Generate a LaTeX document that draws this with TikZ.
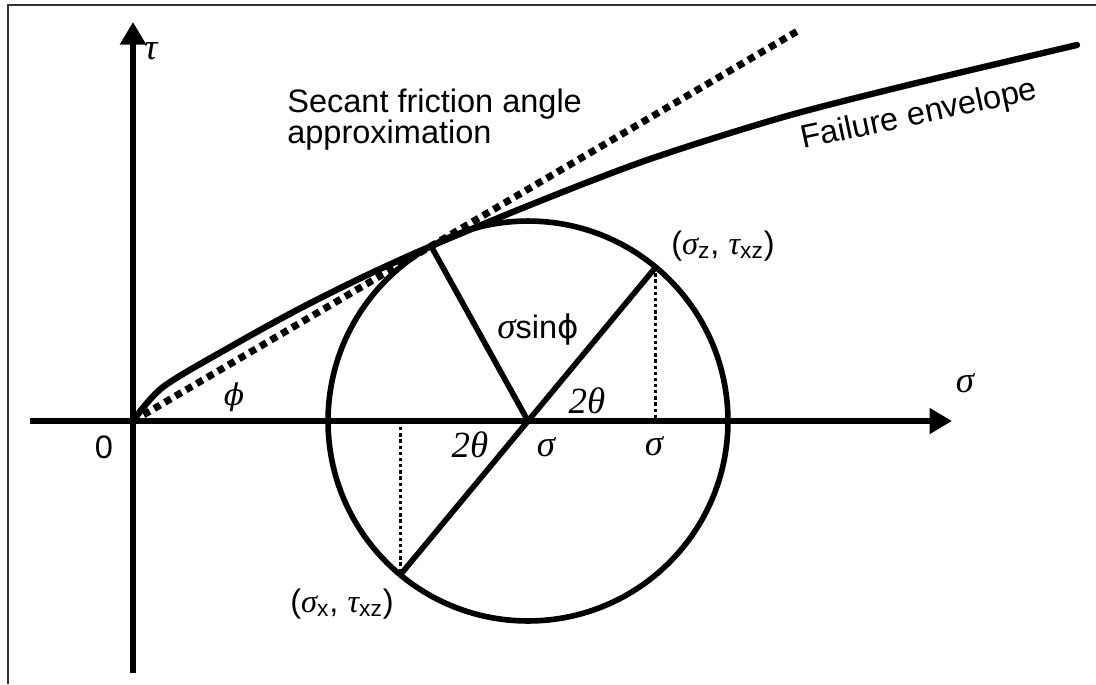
\documentclass[tikz,border=0pt]{standalone}
\usepackage{fontspec}
\setsansfont{Liberation Sans}
\newfontfamily\phifont{DejaVu Sans}
\newfontfamily\phiserif{DejaVu Serif}
\newfontfamily\grkfont{Liberation Serif}
\newcommand{\grkit}[1]{{\grkfont\itshape #1}}
\usetikzlibrary{calc, arrows.meta}

\begin{document}
\begin{tikzpicture}[x=0.02cm, y=-0.02cm,
    axis/.style={line width=3pt, -{Triangle[length=0.45cm, width=0.5cm]}},
    mohr/.style={line width=3.2pt},
    envelope/.style={line width=3.6pt, line cap=round},
    secant/.style={line width=4pt, dash pattern=on 4pt off 3pt},
    drop/.style={line width=1.9pt, dash pattern=on 1.9pt off 1.6pt},
    txt/.style={font=\sffamily\fontsize{18.5}{17.5}\selectfont, inner sep=0pt},
    sym/.style={font=\grkfont\itshape\fontsize{21}{23}\selectfont, inner sep=0pt}
  ]
  \useasboundingbox (0,0) rectangle (1096,684);
  \draw[line width=1.2pt, black!80] (8,684) -- (8,5) -- (1096,5);

  % axes
  \coordinate (O) at (133,421);
  \coordinate (ybot) at (133,673);
  \coordinate (ytop) at (133,22);
  \coordinate (xleft) at (30,421);
  \coordinate (xright) at (952,421);
  \draw[axis] (ybot) -- (ytop);
  \draw[axis] (xleft) -- (xright);

  % Mohr circle
  \coordinate (C) at (528,421);
  \coordinate (T) at ($(C)+(119:4cm)$);
  \coordinate (Z) at ($(C)+(50.3:4cm)$);
  \coordinate (X) at ($(C)+(230.3:4cm)$);
  \coordinate (Zf) at (Z |- C);
  \coordinate (Xf) at (X |- C);
  \draw[mohr] (C) circle[radius=4cm];
  \draw[mohr] (C) -- (T);
  \draw[mohr] (X) -- (Z);
  \draw[drop] (Z) -- (Zf);
  \draw[drop] (Xf) -- (X);

  % secant line and failure envelope
  \coordinate (S) at ($(O)!2.24!(T)$);
  \draw[secant] (O) -- (S);
  \draw[envelope] plot[smooth] coordinates {(O) (163,387) (230,347) (297,310)
    (363,277) (T) (540,201) (650,159) (780,118) (900,87) (1077,45)};

  % labels
  \node[sym] (tau) at (151,51) {τ};
  \node[sym] (sig) at (965,383) {σ};
  \node[txt] (zero) at (104,447) {0};
  \node[sym] (phi) at (234,397) {\phiserif\fontsize{17}{19}\selectfont ϕ};
  \node[txt, align=left, anchor=north west] (secant) at (287,89)
    {Secant friction angle\\approximation};
  \node[txt, rotate=12, anchor=base] (fail) at (921,124) {Failure envelope};
  \node[txt] (radius) at (538,330) {\grkit{\fontsize{21}{23}\selectfont σ}sin{\phifont ϕ}};
  \node[sym] (tta) at (587,401) {2θ};
  \node[sym] (ttb) at (470,445) {2θ};
  \node[sym] (sc) at (546,447) {σ};
  \node[sym] (sz) at (654,446) {σ};
  \node[txt] (pz) at (723,246) {(\grkit{σ}\textsubscript{z}, \grkit{τ}\textsubscript{xz})};
  \node[txt] (px) at (342,604) {(\grkit{σ}\textsubscript{x}, \grkit{τ}\textsubscript{xz})};
\end{tikzpicture}
\end{document}
